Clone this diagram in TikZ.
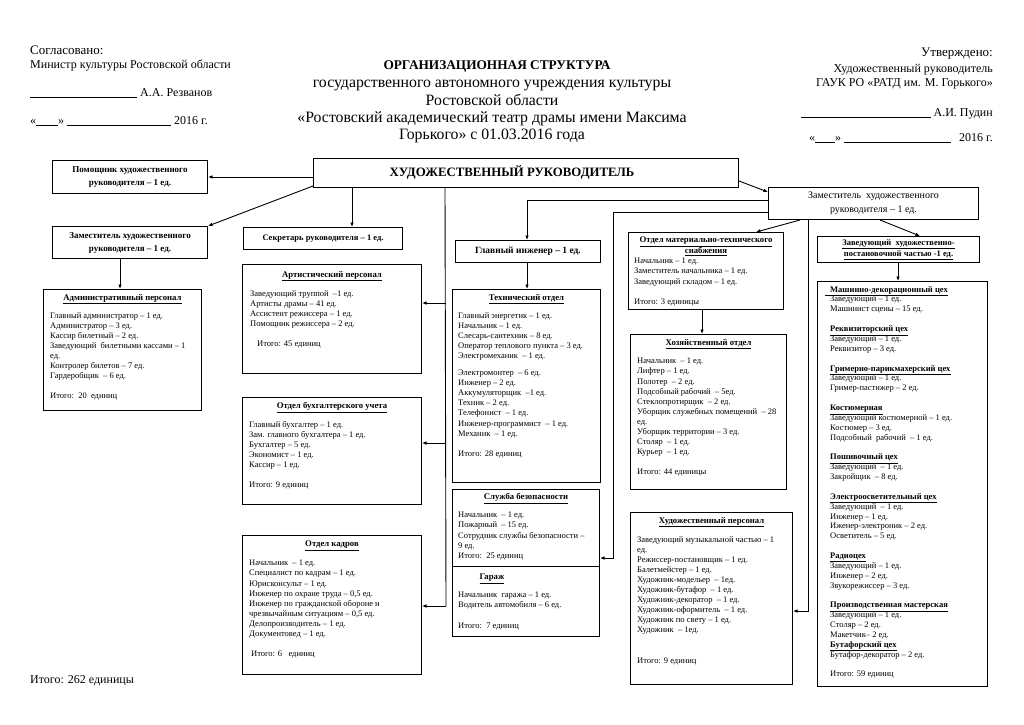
\documentclass[tikz,border=0pt]{standalone}
\usepackage{fontspec}
\setmainfont{Liberation Serif}
\usetikzlibrary{calc,arrows.meta}
\begin{document}
\begin{tikzpicture}[x=1pt,y=-1pt,
  box/.style={draw, line width=1pt, anchor=north west, inner sep=0},
  body/.style={anchor=north west, inner sep=0, align=left, font=\fontsize{8.5}{10.1}\selectfont},
  rbody/.style={anchor=north west, inner sep=0, align=left, font=\fontsize{8.5}{9.87}\selectfont},
  ttl/.style={anchor=north, inner sep=0, align=center, font=\fontsize{8.7}{11}\selectfont\bfseries},
  btxt/.style={font=\fontsize{9}{13}\selectfont\bfseries, align=center},
  hdl/.style={anchor=base west, inner sep=0, font=\fontsize{12}{14}\selectfont},
  hdr/.style={anchor=base east, inner sep=0, font=\fontsize{12}{14}\selectfont},
  arr/.style={-{Latex[length=4.5pt,width=3.6pt]}, line width=0.9pt},
  ln/.style={line width=0.9pt}]
\useasboundingbox (0,0) rectangle (1024,724);
\fill[white] (0,0) rectangle (1024,724);

% ---------- header left
\node[hdl, font=\fontsize{13}{15}\selectfont] (sogl) at (30,54) {Согласовано:};
\node[hdl] (minis) at (30,68) {Министр культуры Ростовской области};
\node[hdl] (rezv) at (30,96) {\rule[-1.5pt]{107pt}{0.5pt}\ А.А. Резванов};
\node[hdl] (dateL) at (30,124) {«\rule[-1.5pt]{22pt}{0.5pt}» \rule[-1.5pt]{104pt}{0.5pt}\ 2016 г.};

% ---------- title
\node[anchor=base, inner sep=0, font=\fontsize{13.3}{16}\selectfont\bfseries] (ttl1) at (497,69) {ОРГАНИЗАЦИОННАЯ СТРУКТУРА};
\node[anchor=north, inner sep=0, align=center, font=\fontsize{15.8}{17.4}\selectfont] (ttl2) at (492,80)
  {государственного автономного учреждения культуры\\Ростовской области\\«Ростовский академический театр драмы имени Максима\\Горького» с 01.03.2016 года};

% ---------- header right
\node[hdr, font=\fontsize{13}{15}\selectfont] (utv) at (993,56) {Утверждено:};
\node[hdr] (hr1) at (993,72) {Художественный руководитель};
\node[hdr] (hr2) at (993,86) {ГАУК РО «РАТД им. М. Горького»};
\node[hdr] (pud) at (993,116) {\rule[-1.5pt]{130pt}{0.5pt}\ А.И. Пудин};
\node[hdr] (dateR) at (993,141) {«\rule[-1.5pt]{20pt}{0.5pt}» \rule[-1.5pt]{107pt}{0.5pt}\hspace{8pt}2016 г.};

% ---------- top level boxes
\node[box, minimum width=425, minimum height=29] (main) at (313,158) {};
\node[inner sep=0, font=\fontsize{12.8}{15}\selectfont\bfseries] (maint) at (512,172.5) {ХУДОЖЕСТВЕННЫЙ РУКОВОДИТЕЛЬ};

\node[box, btxt, minimum width=155, minimum height=33] (pom) at (52,160) {Помощник художественного\\руководителя – 1 ед.};
\node[box, btxt, minimum width=155, minimum height=32] (zamL) at (52,226) {Заместитель художественного\\руководителя – 1 ед.};
\node[box, btxt, minimum width=159, minimum height=22, font=\fontsize{8.5}{13}\selectfont\bfseries] (sec) at (243,227) {Секретарь руководителя – 1 ед.};
\node[box, btxt, minimum width=145, minimum height=22, font=\fontsize{9.5}{13}\selectfont\bfseries] (glinzh) at (455,240) {Главный инженер – 1 ед.};
\node[box, minimum width=210, minimum height=32, font=\fontsize{10}{14}\selectfont, align=center] (zamR) at (768,187) {Заместитель\ \ художественного\\руководителя – 1 ед.};
\node[box, btxt, minimum width=162, minimum height=26, font=\fontsize{8.5}{11}\selectfont\bfseries] (xpch) at (817,236) {\underline{Заведующий\ \ художественно-}\\\underline{постановочной частью -1 ед.}};

% ---------- Administrative
\node[box, minimum width=158, minimum height=121] (adm) at (43,289) {};
\node[ttl] (admT) at ($(adm.north)+(0,5)$) {\underline{Административный персонал}};
\node[body] (admB) at ($(adm.north west)+(7,23)$) {Главный администратор – 1 ед.\\Администратор – 3 ед.\\Кассир билетный – 2 ед.\\Заведующий\ \ билетными кассами – 1\\ед.\\Контролер билетов – 7 ед.\\Гардеробщик\ \ – 6 ед.\\[10.1pt]Итого:\ \ 20\ \ единиц};

% ---------- Artistic
\node[box, minimum width=179, minimum height=109] (art) at (242,264) {};
\node[ttl] (artT) at ($(art.north)+(0,7)$) {\underline{Артистический персонал}};
\node[body] (artB) at ($(art.north west)+(8,26)$) {Заведующий труппой\ \ –1 ед.\\Артисты драмы – 41 ед.\\Ассистент режиссера – 1 ед.\\Помощник режиссера – 2 ед.\\[10.1pt]\hspace*{7pt}Итого: 45 единиц};

% ---------- Accounting
\node[box, minimum width=179, minimum height=107] (buh) at (242,397) {};
\node[ttl] (buhT) at ($(buh.north)+(0,5)$) {\underline{Отдел бухгалтерского учета}};
\node[body] (buhB) at ($(buh.north west)+(7,24)$) {Главный бухгалтер – 1 ед.\\Зам. главного бухгалтера – 1 ед.\\Бухгалтер – 5 ед.\\Экономист – 1 ед.\\Кассир – 1 ед.\\[10.1pt]Итого: 9 единиц};

% ---------- HR
\node[box, minimum width=179, minimum height=139] (kadry) at (242,535) {};
\node[ttl] (kadT) at ($(kadry.north)+(0,6)$) {\underline{Отдел кадров}};
\node[body] (kadB) at ($(kadry.north west)+(7,25)$) {Начальник\ \ – 1 ед.\\Специалист по кадрам – 1 ед.\\Юрисконсульт – 1 ед.\\Инженер по охране труда – 0,5 ед.\\Инженер по гражданской обороне и\\чрезвычайным ситуациям – 0,5 ед.\\Делопроизводитель – 1 ед.\\Документовед – 1 ед.\\[10.1pt]\hspace*{2pt}Итого: 6\ \ \ единиц};

% ---------- Technical
\node[box, minimum width=148, minimum height=193] (tech) at (452,289) {};
\node[ttl] (techT) at ($(tech.north)+(0,5)$) {\underline{Технический отдел}};
\node[body] (techB) at ($(tech.north west)+(6,23)$) {Главный энергетик – 1 ед.\\Начальник – 1 ед.\\Слесарь-сантехник – 8 ед.\\Оператор теплового пункта – 3 ед.\\Электромеханик\ \ – 1 ед.\\[7pt]Электромонтер\ \ – 6 ед.\\Инженер – 2 ед.\\Аккумуляторщик\ \ –1 ед.\\Техник – 2 ед.\\Телефонист\ \ – 1 ед.\\Инженер-программист\ \ – 1 ед.\\Механик\ \ – 1 ед.\\[10.1pt]Итого: 28 единиц};

% ---------- Security + Garage
\node[box, minimum width=147, minimum height=147] (secur) at (452,489) {};
\node[ttl] (securT) at ($(secur.north)+(0,4)$) {\underline{Служба безопасности}};
\node[body] (securB) at ($(secur.north west)+(6,23)$) {Начальник\ \ – 1 ед.\\Пожарный\ \ – 15 ед.\\Сотрудник службы безопасности –\\9 ед.\\Итого:\ \ 25 единиц};
\draw[ln] ($(secur.north west)+(0,77)$) -- ($(secur.north east)+(0,77)$);
\node[ttl] (garT) at ($(secur.north west)+(40,85)$) {\underline{Гараж}};
\node[body] (garB) at ($(secur.north west)+(6,103)$) {Начальник\ \ гаража – 1 ед.\\Водитель автомобиля – 6 ед.\\[10.1pt]Итого:\ \ 7 единиц};

% ---------- Supply
\node[box, minimum width=155, minimum height=77] (mts) at (628,232) {};
\node[ttl] (mtsT) at ($(mts.north)+(0,5)$) {\underline{Отдел материально-технического}\\\underline{снабжения}};
\node[body] (mtsB) at ($(mts.north west)+(6,26)$) {Начальник – 1 ед.\\Заместитель начальника – 1 ед.\\Заведующий складом – 1 ед.\\[10.1pt]Итого: 3 единицы};

% ---------- Household
\node[box, minimum width=156, minimum height=155] (hoz) at (630,334) {};
\node[ttl] (hozT) at ($(hoz.north)+(0,5)$) {\underline{Хозяйственный отдел}};
\node[body] (hozB) at ($(hoz.north west)+(7,24)$) {Начальник\ \ – 1 ед.\\Лифтер – 1 ед.\\Полотер\ \ – 2 ед.\\Подсобный рабочий\ \ – 5ед.\\Стеклопротирщик\ \ – 2 ед.\\Уборщик служебных помещений\ \ – 28\\ед.\\Уборщик территории – 3 ед.\\Столяр\ \ – 1 ед.\\Курьер\ \ – 1 ед.\\[10.1pt]Итого: 44 единицы};

% ---------- Art staff
\node[box, minimum width=162, minimum height=172] (hud) at (630,512) {};
\node[ttl] (hudT) at ($(hud.north)+(0,5)$) {\underline{Художественный персонал}};
\node[body] (hudB) at ($(hud.north west)+(7,24)$) {Заведующий музыкальной частью – 1\\ед.\\Режиссер-постановщик – 1 ед.\\Балетмейстер – 1 ед.\\Художник-модельер\ \ – 1ед.\\Художник-бутафор\ \ – 1 ед.\\Художник-декоратор\ \ – 1 ед.\\Художник-оформитель\ \ – 1 ед.\\Художник по свету – 1 ед.\\Художник\ \ – 1ед.\\[20.2pt]Итого: 9 единиц};

% ---------- Workshops
\node[box, minimum width=170, minimum height=405] (rt) at (817,281) {};
\node[rbody] (rtB) at ($(rt.north west)+(13,5)$) {\hspace*{-5pt}\textbf{\underline{\hspace{5pt}Машинно-декорационный цех}}\\Заведующий – 1 ед.\\Машинист сцены – 15 ед.\\[9.87pt]\textbf{\underline{Реквизиторский цех}}\\Заведующий – 1 ед.\\Реквизитор – 3 ед.\\[9.87pt]\textbf{\underline{Гримерно-парикмахерский цех}}\\Заведующий – 1 ед.\\Гример-пастижер – 2 ед.\\[9.87pt]\textbf{\underline{Костюмерная}}\\Заведующий костюмерной – 1 ед.\\Костюмер – 3 ед.\\Подсобный\ \ рабочий\ \ – 1 ед.\\[9.87pt]\textbf{\underline{Пошивочный цех}}\\Заведующий\ \ – 1 ед.\\Закройщик\ \ – 8 ед.\\[9.87pt]\textbf{\underline{Электроосветительный цех}}\\Заведующий\ \ – 1 ед.\\Инженер – 1 ед.\\Иженер-электроник – 2 ед.\\Осветитель – 5 ед.\\[9.87pt]\textbf{\underline{Радиоцех}}\\Заведующий – 1 ед.\\Инженер – 2 ед.\\Звукорежиссер – 3 ед.\\[9.87pt]\textbf{\underline{Производственная мастерская}}\\Заведующий – 1 ед.\\Столяр – 2 ед.\\Макетчик– 2 ед.\\\textbf{\underline{Бутафорский цех}}\\Бутафор-декоратор – 2 ед.\\[9.87pt]Итого: 59 единиц};

% ---------- total
\node[hdl] (total) at (30,683) {Итого: 262 единицы};

% ---------- connectors
\draw[arr] (main.west |- pom.east) -- (pom.east);
\draw[arr] ($(main.south west)+(0,-2)$) -- (zamL.north east);
\draw[arr] ($(main.south west)+(39,0)$) -- ($(sec.north west)+(109,0)$);
\draw[arr] ($(zamL.south west)+(68,0)$) -- ($(adm.north west)+(77,0)$);
\draw[ln] ($(main.south west)+(132,0)$) -- ($(kadry.north east)+(24,71)$);
\draw[arr] ($(art.north east)+(24,39)$) -- ($(art.north east)+(0,39)$);
\draw[arr] ($(buh.north east)+(24,46)$) -- ($(buh.north east)+(0,46)$);
\draw[arr] ($(kadry.north east)+(24,71)$) -- ($(kadry.north east)+(0,71)$);

\draw[arr] ($(main.north east)+(0,23)$) -- ($(zamR.north west)+(0,5)$);
\draw[arr] ($(zamR.north west)+(0,13)$) -| ($(glinzh.north west)+(72,0)$);
\draw[arr] ($(zamR.north west)+(0,25)$) -| ($(secur.north east)+(13,69)$) -- ($(secur.north east)+(0,69)$);
\draw[arr] ($(zamR.south west)+(32,0)$) -- ($(mts.north east)+(-28,0)$);
\draw[arr] ($(zamR.south west)+(40,0)$) |- ($(hud.north east)+(0,99)$);
\draw[arr] ($(zamR.south west)+(112,0)$) -- ($(xpch.north west)+(103,0)$);
\draw[arr] ($(xpch.south west)+(81,0)$) -- ($(rt.north west)+(81,0)$);
\draw[arr] ($(mts.south west)+(74,0)$) -- ($(hoz.north west)+(72,0)$);
\draw[arr] ($(glinzh.south west)+(72,0)$) -- ($(tech.north west)+(75,0)$);
\end{tikzpicture}
\end{document}
